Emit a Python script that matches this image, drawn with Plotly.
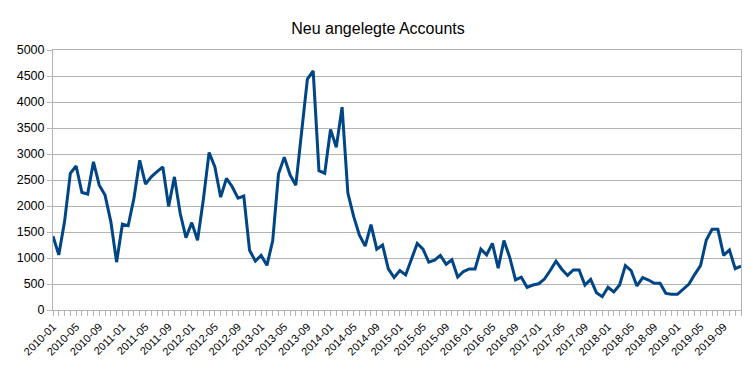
import plotly.graph_objects as go

months = [f"{y}-{m:02d}" for y in range(2010, 2020) for m in range(1, 13)]

accounts = [
    1420, 1060, 1700, 2630, 2770, 2260, 2230, 2850, 2400, 2210, 1700, 920,
    1650, 1620, 2150, 2880, 2420, 2560, 2660, 2750, 1990, 2560, 1860, 1390,
    1680, 1340, 2120, 3030, 2750, 2170, 2530, 2370, 2150, 2190, 1150, 940,
    1050, 860, 1330, 2615, 2940, 2600, 2400, 3460, 4440, 4600, 2680, 2630,
    3470, 3130, 3900, 2250, 1800, 1440, 1230, 1640, 1170, 1250, 790, 625,
    760, 675, 960, 1280, 1170, 920, 960, 1050, 880, 965, 635, 740,
    790, 790, 1170, 1060, 1280, 805, 1335, 1010, 580, 630, 436, 481,
    505, 595, 760, 940, 785, 665, 770, 770, 481, 590, 333, 256,
    436, 346, 481, 853, 756, 462, 622, 577, 513, 513, 320, 301,
    301, 397, 500, 686, 853, 1346, 1551, 1551, 1051, 1154, 795, 846,
]

tick_step = 4
idx = list(range(len(months)))
tickvals = idx[::tick_step]
ticktext = months[::tick_step]

fig = go.Figure(
    go.Scatter(
        x=idx,
        y=accounts,
        mode="lines",
        line=dict(color="#004586", width=3),
        hoverinfo="skip",
    )
)

grid = "#b3b3b3"
fig.update_layout(
    width=756,
    height=378,
    margin=dict(l=53, r=15, t=50, b=68),
    paper_bgcolor="white",
    plot_bgcolor="white",
    showlegend=False,
    font=dict(family="Liberation Sans, Arial, sans-serif", color="#000000"),
    title=dict(
        text="Neu angelegte Accounts",
        x=0.5,
        xanchor="center",
        y=1 - 28 / 378,
        yanchor="middle",
        font=dict(size=16, family="Liberation Sans, Arial, sans-serif", color="#000000"),
    ),
    xaxis=dict(
        range=[0, len(months) - 1],
        tickmode="array",
        tickvals=tickvals,
        ticktext=ticktext,
        tickangle=-45,
        tickfont=dict(size=11),
        ticks="outside",
        ticklen=5,
        tickcolor=grid,
        showgrid=False,
        showline=True,
        linecolor=grid,
        linewidth=1,
        mirror=True,
        zeroline=False,
        automargin=False,
        minor=dict(dtick=1, ticks="outside", ticklen=5, tickcolor=grid, showgrid=False),
    ),
    yaxis=dict(
        range=[0, 5000],
        dtick=500,
        tick0=0,
        tickfont=dict(size=12.5),
        ticks="outside",
        ticklen=5,
        tickcolor=grid,
        showgrid=True,
        gridcolor=grid,
        gridwidth=1,
        showline=True,
        linecolor=grid,
        linewidth=1,
        mirror=True,
        zeroline=False,
        automargin=False,
    ),
)

fig.write_html(
    "out.html",
    config={"displayModeBar": False},
    post_script="document.body.style.margin='0';document.body.style.padding='0';",
)
